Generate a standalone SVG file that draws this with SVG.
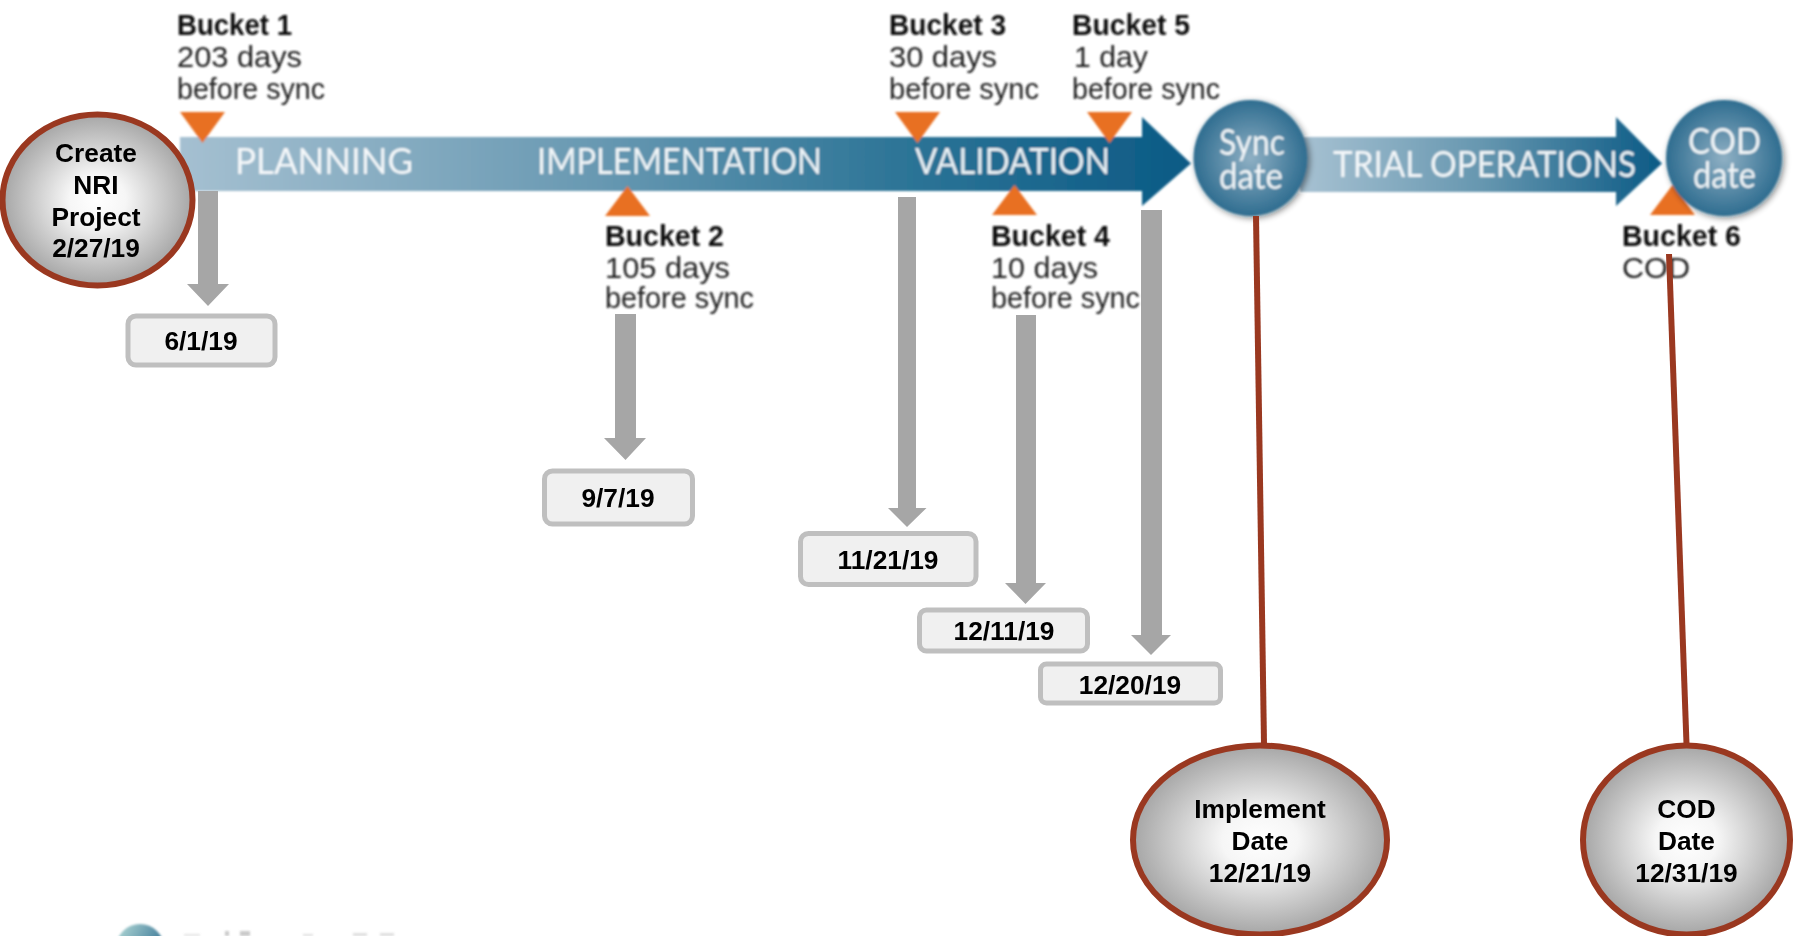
<svg xmlns="http://www.w3.org/2000/svg" width="1799" height="936" viewBox="0 0 1799 936">
<defs>
<filter id="soft" x="-5%" y="-20%" width="110%" height="140%"><feGaussianBlur stdDeviation="0.9"/></filter>
<filter id="ballshadow" x="-20%" y="-20%" width="140%" height="140%"><feGaussianBlur in="SourceAlpha" stdDeviation="3"/><feOffset dx="2" dy="2"/><feComponentTransfer><feFuncA type="linear" slope="0.5"/></feComponentTransfer><feMerge><feMergeNode/><feMergeNode in="SourceGraphic"/></feMerge></filter>
<linearGradient id="bar1" gradientUnits="userSpaceOnUse" x1="180" y1="0" x2="1191" y2="0"><stop offset="0" stop-color="#a5c0d1"/><stop offset="0.4" stop-color="#6a9ab3"/><stop offset="0.7" stop-color="#2f7698"/><stop offset="1" stop-color="#0b5a85"/></linearGradient>
<linearGradient id="bar2" gradientUnits="userSpaceOnUse" x1="1307" y1="0" x2="1662" y2="0"><stop offset="0" stop-color="#a5c0d1"/><stop offset="0.5" stop-color="#6596af"/><stop offset="1" stop-color="#0b5a85"/></linearGradient>
<radialGradient id="ball" cx="0.5" cy="0.5" r="0.5"><stop offset="0" stop-color="#8fb0c4"/><stop offset="1" stop-color="#2f6d90"/></radialGradient>
<radialGradient id="steel"><stop offset="0" stop-color="#ffffff"/><stop offset="0.3" stop-color="#f6f6f6"/><stop offset="1" stop-color="#a6a6a6"/></radialGradient>
<linearGradient id="logo" x1="0" y1="0" x2="1" y2="0.6"><stop offset="0" stop-color="#b6dcd8"/><stop offset="1" stop-color="#2f6d90"/></linearGradient>
<path id="tdown" d="M0 0H45L22.500 31Z"/>
<path id="tup" d="M0 30H45L22.500 0Z"/>
</defs>
<style>
.b{font:700 30px "Liberation Sans",sans-serif;fill:#111}
.d{font:400 29.500px "Liberation Sans",sans-serif;fill:#222}
.w{font:400 36px "Lato","Liberation Sans",sans-serif;fill:#fff;fill-opacity:.9}
.s{font:400 37px "Lato","Liberation Sans",sans-serif;fill:#fff;fill-opacity:.9}
.n{font:700 26.300px "Liberation Sans",Arial,sans-serif;fill:#000;text-anchor:middle}
.t{fill:#e86f22}
.box{fill:#f0f0f0;stroke:#bfbfbf;stroke-width:5}
.oval{fill:url(#steel);stroke:#9a3820;stroke-width:6}
.gray{fill:#a6a6a6}
.link{stroke:#9a3820;stroke-width:6;fill:none}
.frag{fill:#8a8a8a}
</style>
<rect width="1799" height="936" fill="#fff"/>
<g id="timeline-art" filter="url(#soft)">
<path d="M180 137H1142V117L1191 163.500L1142 206V191H180Z" fill="url(#bar1)"/>
<path d="M1300 137H1616V117L1662 163.500L1616 206V192H1300Z" fill="url(#bar2)"/>
<use href="#tdown" x="180" y="112" class="t"/>
<use href="#tdown" x="895" y="112" class="t"/>
<use href="#tdown" x="1087" y="112" class="t"/>
<use href="#tup" x="605" y="186" class="t"/>
<use href="#tup" x="992" y="185" class="t"/>
<use href="#tup" x="1650" y="185" class="t"/>
<g id="sync-date"><ellipse cx="1250.500" cy="158" rx="57" ry="58" fill="url(#ball)" filter="url(#ballshadow)"/></g>
<g id="cod-date"><ellipse cx="1724" cy="158" rx="58" ry="58" fill="url(#ball)" filter="url(#ballshadow)"/></g>
<circle cx="140" cy="948" r="24" fill="url(#logo)"/>
<g id="cut-off-logo-text" opacity="0.45">
<rect class="frag" x="184" y="934" width="16" height="2" opacity="0.5"/>
<rect class="frag" x="225" y="931" width="4" height="5"/>
<rect class="frag" x="240" y="931" width="10" height="5"/>
<rect class="frag" x="303" y="934" width="10" height="2" opacity="0.6"/>
<rect class="frag" x="353" y="933" width="14" height="3" opacity="0.6"/>
<rect class="frag" x="380" y="933" width="14" height="3" opacity="0.6"/>
</g>
<text class="w" x="235" y="174" textLength="178" lengthAdjust="spacingAndGlyphs">PLANNING</text>
<text class="w" x="537" y="174" textLength="285" lengthAdjust="spacingAndGlyphs">IMPLEMENTATION</text>
<text class="w" x="915" y="174" textLength="195" lengthAdjust="spacingAndGlyphs">VALIDATION</text>
<text class="w" x="1333" y="177" textLength="303" lengthAdjust="spacingAndGlyphs">TRIAL OPERATIONS</text>
<text class="s" x="1219" y="155" textLength="66" lengthAdjust="spacingAndGlyphs">Sync</text>
<text class="s" x="1219" y="189" textLength="64" lengthAdjust="spacingAndGlyphs">date</text>
<text class="s" x="1688" y="154" textLength="73" lengthAdjust="spacingAndGlyphs">COD</text>
<text class="s" x="1693" y="188" textLength="63" lengthAdjust="spacingAndGlyphs">date</text>
<g id="bucket-1"><text class="b" x="177" y="35" textLength="115" lengthAdjust="spacingAndGlyphs">Bucket 1</text><text class="d" x="177" y="67" textLength="125" lengthAdjust="spacingAndGlyphs">203 days</text><text class="d" x="177" y="98.500" textLength="148" lengthAdjust="spacingAndGlyphs">before sync</text></g>
<g id="bucket-2"><text class="b" x="605" y="246" textLength="119" lengthAdjust="spacingAndGlyphs">Bucket 2</text><text class="d" x="605" y="278" textLength="125" lengthAdjust="spacingAndGlyphs">105 days</text><text class="d" x="605" y="308" textLength="149" lengthAdjust="spacingAndGlyphs">before sync</text></g>
<g id="bucket-3"><text class="b" x="889" y="35" textLength="117" lengthAdjust="spacingAndGlyphs">Bucket 3</text><text class="d" x="889" y="67" textLength="108" lengthAdjust="spacingAndGlyphs">30 days</text><text class="d" x="889" y="98.500" textLength="150" lengthAdjust="spacingAndGlyphs">before sync</text></g>
<g id="bucket-4"><text class="b" x="991" y="246" textLength="119" lengthAdjust="spacingAndGlyphs">Bucket 4</text><text class="d" x="991" y="278" textLength="107" lengthAdjust="spacingAndGlyphs">10 days</text><text class="d" x="991" y="308" textLength="149" lengthAdjust="spacingAndGlyphs">before sync</text></g>
<g id="bucket-5"><text class="b" x="1072" y="35" textLength="118" lengthAdjust="spacingAndGlyphs">Bucket 5</text><text class="d" x="1074" y="67" textLength="74" lengthAdjust="spacingAndGlyphs">1 day</text><text class="d" x="1072" y="98.500" textLength="148" lengthAdjust="spacingAndGlyphs">before sync</text></g>
<g id="bucket-6"><text class="b" x="1622" y="246" textLength="119" lengthAdjust="spacingAndGlyphs">Bucket 6</text><text class="d" x="1622" y="278" textLength="68" lengthAdjust="spacingAndGlyphs">COD</text></g>
</g>
<g id="connectors">
<path class="gray" d="M198 191H218V284H229L208 306L187 284H198Z"/>
<path class="gray" d="M615 314H636V438H646L625.500 460L604 438H615Z"/>
<path class="gray" d="M898 197H916V508H926.500L907 527L888 508H898Z"/>
<path class="gray" d="M1016 315H1036V583H1046L1025.500 604L1005 583H1016Z"/>
<path class="gray" d="M1141 210H1162V635H1171L1151 655L1131 635H1141Z"/>
<path class="link" d="M1256 216L1264 744"/>
<path class="link" d="M1669 254L1686.500 744"/>
</g>
<g id="create-nri"><ellipse class="oval" cx="97.500" cy="200" rx="95" ry="85.500"/><text class="n" x="96" y="162">Create</text><text class="n" x="96" y="194">NRI</text><text class="n" x="96" y="226">Project</text><text class="n" x="96" y="257">2/27/19</text></g>
<g id="date-6-1"><rect class="box" x="128" y="316" width="147" height="49" rx="8"/><text class="n" x="201" y="350">6/1/19</text></g>
<g id="date-9-7"><rect class="box" x="544.500" y="471" width="148" height="53" rx="8"/><text class="n" x="618" y="507">9/7/19</text></g>
<g id="date-11-21"><rect class="box" x="800.500" y="533.500" width="175.500" height="51" rx="8"/><text class="n" x="888" y="569">11/21/19</text></g>
<g id="date-12-11"><rect class="box" x="919.500" y="610" width="168" height="41" rx="7"/><text class="n" x="1004" y="640">12/11/19</text></g>
<g id="date-12-20"><rect class="box" x="1040.500" y="664" width="180" height="39" rx="6"/><text class="n" x="1130" y="694">12/20/19</text></g>
<g id="implement-date"><ellipse class="oval" cx="1260" cy="840" rx="127" ry="94.500"/><text class="n" x="1260" y="818">Implement</text><text class="n" x="1260" y="850">Date</text><text class="n" x="1260" y="882">12/21/19</text></g>
<g id="cod-date-oval"><ellipse class="oval" cx="1686.500" cy="840" rx="103.500" ry="94.500"/><text class="n" x="1686.500" y="818">COD</text><text class="n" x="1686.500" y="850">Date</text><text class="n" x="1686.500" y="882">12/31/19</text></g>
</svg>
